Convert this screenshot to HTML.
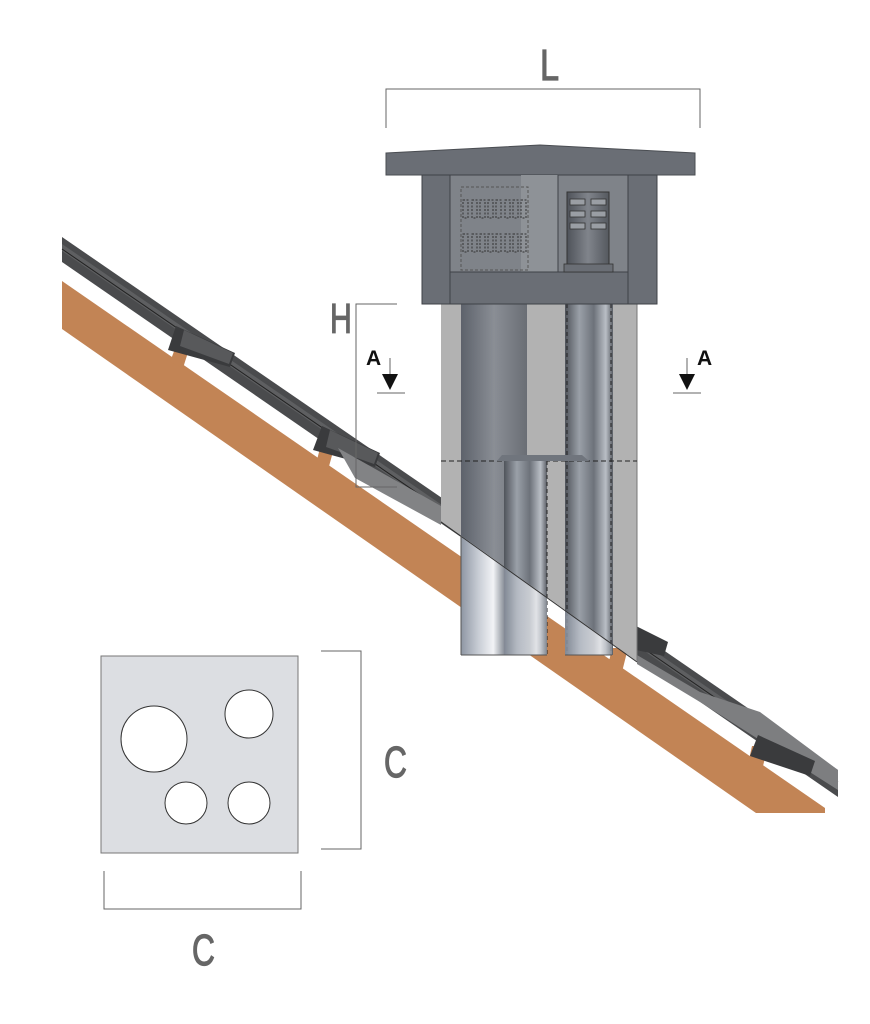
<!DOCTYPE html>
<html><head><meta charset="utf-8"><style>html,body{margin:0;padding:0;background:#fff}svg{display:block}</style></head>
<body>
<svg width="870" height="1024" viewBox="0 0 870 1024" xmlns="http://www.w3.org/2000/svg">
<defs>
<linearGradient id="pipe" x1="0" x2="1" y1="0" y2="0">
<stop offset="0" stop-color="#5d626b"/><stop offset="0.5" stop-color="#8a8e95"/><stop offset="1" stop-color="#6a6e75"/></linearGradient>
<linearGradient id="silver" x1="0" x2="1" y1="0" y2="0">
<stop offset="0" stop-color="#8e96a3"/><stop offset="0.4" stop-color="#c7ccd4"/><stop offset="0.75" stop-color="#f2f3f6"/><stop offset="1" stop-color="#8c929b"/></linearGradient>
<linearGradient id="small" x1="0" x2="1" y1="0" y2="0">
<stop offset="0" stop-color="#50545b"/><stop offset="0.3" stop-color="#9aa0a8"/><stop offset="0.6" stop-color="#6d727a"/><stop offset="0.85" stop-color="#b9bec5"/><stop offset="1" stop-color="#5a5e65"/></linearGradient>
<linearGradient id="cyl" x1="0" x2="1" y1="0" y2="0">
<stop offset="0" stop-color="#4f535a"/><stop offset="0.5" stop-color="#80848b"/><stop offset="1" stop-color="#55595f"/></linearGradient>
<clipPath id="above"><polygon points="400,300 680,300 680,692 400,492"/></clipPath>
<clipPath id="below"><polygon points="400,492 680,692 680,700 400,700"/></clipPath>
</defs>

<!-- orange rafter -->
<polygon points="62,281 825,808 825,813 756,813 62,329" fill="#c28455"/>
<polygon points="176,346 190,346 183,368 170,362" fill="#c28455"/>
<polygon points="320,448 334,448 328,470 316,464" fill="#c28455"/>
<polygon points="612,648 628,648 622,672 608,666" fill="#c28455"/>
<polygon points="752,746 768,746 762,770 748,764" fill="#c28455"/>

<!-- roof tiles band -->
<polygon points="62,237 838,770 838,797 62,262" fill="#4a4b4d"/>
<polygon points="62,244 838,777 838,784 62,251" fill="#5e5f61"/>
<line x1="62" y1="249" x2="838" y2="782" stroke="#222" stroke-width="1"/>
<polygon points="176,326 235,353 230,367 168,350" fill="#3a3b3d"/>
<polygon points="184,330 233,353 229,364 180,346" fill="#58595b"/>
<polygon points="322,426 380,453 375,467 313,450" fill="#3a3b3d"/>
<polygon points="330,430 378,453 374,464 326,447" fill="#58595b"/>
<polygon points="338,448 441,506 441,525 355,478" fill="#828385"/>
<polygon points="636,626 668,642 664,656 636,650" fill="#3a3b3d"/>
<polygon points="637,655 700,692 760,712 838,770 838,790 700,702 637,664" fill="#7d7e80"/>
<polygon points="758,735 815,761 810,776 750,756" fill="#3a3b3d"/>

<!-- chimney body above roof line -->
<g clip-path="url(#above)">
<rect x="441" y="304" width="196" height="360" fill="#b2b2b2"/>
<line x1="637" y1="304" x2="637" y2="663" stroke="#777" stroke-width="1"/>
<rect x="461" y="304" width="66" height="360" fill="url(#pipe)"/>
</g>
<g clip-path="url(#below)">
<rect x="461" y="500" width="43" height="155" fill="url(#silver)"/>
</g>
<rect x="565" y="304" width="48" height="351" fill="url(#small)"/>
<line x1="567" y1="304" x2="567" y2="655" stroke="#222" stroke-dasharray="4,3"/>
<line x1="611" y1="304" x2="611" y2="655" stroke="#222" stroke-dasharray="4,3"/>
<line x1="441" y1="461" x2="637" y2="461" stroke="#222" stroke-dasharray="5,3"/>
<polygon points="497,461 502,455 582,455 589,461" fill="#70757d"/>
<rect x="504" y="461" width="43" height="194" fill="url(#small)"/>
<line x1="547" y1="461" x2="547" y2="655" stroke="#222" stroke-dasharray="4,3"/>
<g clip-path="url(#below)">
<rect x="504" y="500" width="43" height="155" fill="url(#silver)" opacity="0.8"/>
<rect x="565" y="500" width="47" height="155" fill="url(#silver)" opacity="0.8"/>
</g>
<line x1="441" y1="522" x2="637" y2="662" stroke="#333" stroke-width="1"/>
<line x1="461" y1="536" x2="461" y2="655" stroke="#555"/>
<line x1="461" y1="655" x2="547" y2="655" stroke="#555"/>
<line x1="565" y1="655" x2="612" y2="655" stroke="#555"/>

<!-- chimney head -->
<polygon points="386,153 540,145 695,153 695,175 386,175" fill="#6a6e75" stroke="#4a4d52" stroke-width="1"/>
<rect x="422" y="175" width="235" height="129" fill="#6a6e75" stroke="#3f4247"/>
<rect x="450" y="175" width="178" height="97" fill="#7f8389" stroke="#3f4247"/>
<rect x="521" y="175" width="37" height="97" fill="#8e9297"/>
<line x1="558" y1="175" x2="558" y2="272" stroke="#3f4247"/>
<rect x="450" y="272" width="178" height="32" fill="#6a6e75" stroke="#3f4247"/>
<rect x="461" y="187" width="67" height="83" fill="none" stroke="#555" stroke-dasharray="3,2"/>
<g fill="none" stroke="#333" stroke-dasharray="2,1.5">
<rect x="463" y="200" width="5" height="18"/><rect x="472" y="200" width="5" height="18"/><rect x="480" y="200" width="5" height="18"/><rect x="488" y="200" width="5" height="18"/><rect x="496" y="200" width="5" height="18"/><rect x="505" y="200" width="5" height="18"/><rect x="513" y="200" width="5" height="18"/><rect x="521" y="200" width="5" height="18"/>
<rect x="463" y="234" width="5" height="18"/><rect x="472" y="234" width="5" height="18"/><rect x="480" y="234" width="5" height="18"/><rect x="488" y="234" width="5" height="18"/><rect x="496" y="234" width="5" height="18"/><rect x="505" y="234" width="5" height="18"/><rect x="513" y="234" width="5" height="18"/><rect x="521" y="234" width="5" height="18"/>
</g>
<rect x="567" y="192" width="42" height="78" fill="url(#cyl)" stroke="#333"/>
<g fill="#9a9ea4" stroke="#333" stroke-width="0.8">
<rect x="570" y="199" width="15" height="6"/><rect x="591" y="199" width="15" height="6"/>
<rect x="570" y="211" width="15" height="6"/><rect x="591" y="211" width="15" height="6"/>
<rect x="570" y="223" width="15" height="6"/><rect x="591" y="223" width="15" height="6"/>
</g>
<rect x="564" y="264" width="49" height="8" fill="#6a6e75" stroke="#333" stroke-width="0.8"/>

<!-- dimensions -->
<g stroke="#666" stroke-width="1" fill="none">
<polyline points="386,128 386,89 700,89 700,128"/>
<polyline points="397,304 356,304 356,487 397,487"/>
<line x1="377" y1="393" x2="405" y2="393"/>
<line x1="390" y1="358" x2="390" y2="376"/>
<line x1="673" y1="393" x2="701" y2="393"/>
<line x1="687" y1="358" x2="687" y2="376"/>
<polyline points="321,651 361,651 361,849 321,849"/>
<polyline points="104,871 104,909 301,909 301,871"/>
</g>
<polygon points="382,374 398,374 390,390" fill="#111"/>
<polygon points="679,374 695,374 687,390" fill="#111"/>
<g font-family="Liberation Sans, sans-serif" fill="#666" stroke="#666" stroke-width="1.2">
<text x="0" y="0" font-size="44" transform="translate(540,80) scale(0.78,1)">L</text>
<text x="0" y="0" font-size="42" transform="translate(330,333) scale(0.72,1)">H</text>
<text x="0" y="0" font-size="44" transform="translate(384,777) scale(0.72,1)">C</text>
<text x="0" y="0" font-size="44" transform="translate(192,965) scale(0.72,1)">C</text>
</g>
<g font-family="Liberation Sans, sans-serif" font-weight="bold" font-size="21" fill="#111">
<text x="366" y="365">A</text><text x="697" y="365">A</text>
</g>

<!-- square plate -->
<rect x="101" y="656" width="197" height="197" fill="#dcdee2" stroke="#777" stroke-width="1"/>
<g fill="#fff" stroke="#333" stroke-width="1">
<circle cx="154" cy="739" r="33"/>
<circle cx="249" cy="714" r="24"/>
<circle cx="186" cy="803" r="21"/>
<circle cx="249" cy="803" r="21"/>
</g>
</svg>
</body></html>
